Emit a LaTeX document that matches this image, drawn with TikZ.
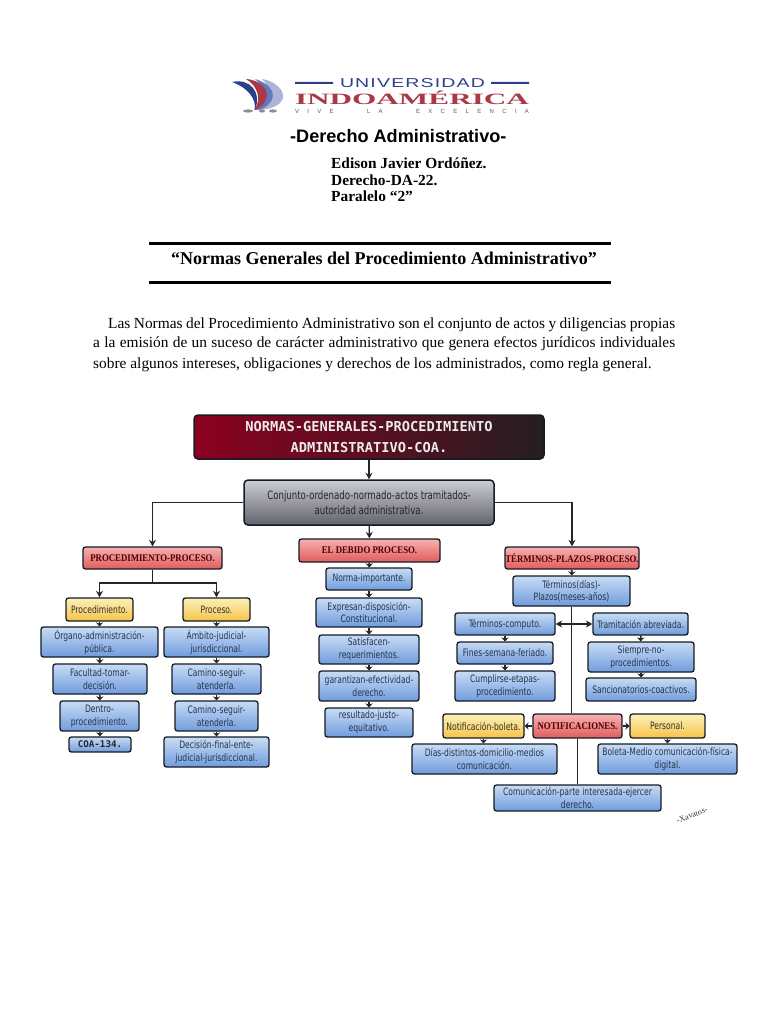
\documentclass[tikz,border=0pt]{standalone}
\usepackage{fontspec}
\usepackage{graphicx}
\setmainfont{Liberation Serif}
\newfontfamily\arialf{Liberation Sans}
\newfontfamily\boxf[FakeStretch=0.83]{DejaVu Sans Condensed}
\newfontfamily\headf[FakeStretch=0.86]{Liberation Serif}
\newfontfamily\monof{DejaVu Sans Mono}
\usetikzlibrary{arrows.meta}
\definecolor{edgec}{HTML}{141B24}
\definecolor{inkc}{HTML}{26344A}
\definecolor{navyc}{HTML}{2C3F8C}
\definecolor{logored}{HTML}{A83A48}
\tikzset{
  box/.style={draw=edgec,line width=1.3pt,rounded corners=2.5pt,inner sep=0pt,align=center,text=inkc,
     font=\boxf\fontsize{10.2}{12.8}\selectfont},
  blues/.style={box,top color={rgb,255:red,200;green,220;blue,245},bottom color={rgb,255:red,112;green,156;blue,220}},
  reds/.style={box,top color={rgb,255:red,246;green,178;blue,178},bottom color={rgb,255:red,224;green,92;blue,92},
     text=red!30!black,font=\headf\bfseries\fontsize{10.2}{12}\selectfont},
  yellows/.style={box,top color={rgb,255:red,253;green,240;blue,185},bottom color={rgb,255:red,245;green,196;blue,72},text=black!80},
  titlebox/.style={box,line width=1.5pt,rounded corners=4pt,left color={rgb,255:red,140;green,0;blue,32},right color={rgb,255:red,38;green,30;blue,34},
     text=white!92!black,font=\monof\bfseries\fontsize{13.7}{21}\selectfont},
  graybox/.style={box,line width=1.5pt,rounded corners=4pt,top color={rgb,255:red,205;green,205;blue,212},bottom color={rgb,255:red,98;green,98;blue,108},
     text=black!85,font=\boxf\fontsize{11.5}{15.5}\selectfont},
  coabox/.style={blues,text=black!85,font=\monof\bfseries\fontsize{9.2}{11}\selectfont},
  link/.style={draw=black!85,line width=1.3pt},
  arr/.style={link,-{Stealth[length=6.5pt,width=7pt]}},
  stub/.style={link,line width=1.8pt,-{Stealth[length=4pt,width=7.5pt]}},
  plain/.style={inner sep=0pt,anchor=west,text=black},
  rulebar/.style={draw=black,line width=3pt},
}
\newcommand{\bx}[7]{% name x1 y1 x2 y2 style text
  \pgfmathsetmacro{\cxv}{(#2+#4)/2}\pgfmathsetmacro{\cyv}{(#3+#5)/2}
  \pgfmathsetmacro{\wv}{#4-#2}\pgfmathsetmacro{\hv}{#5-#3}
  \node[#6,minimum width=\wv pt,minimum height=\hv pt] (#1) at (\cxv,\cyv) {#7};}
\begin{document}
\begin{tikzpicture}[x=1pt,y=-1pt]
\useasboundingbox (0,0) rectangle (768,1024);
% logo
\fill[color={rgb,255:red,172;green,180;blue,216}] (262,79) .. controls (280,82) and (288,96) .. (280,103) .. controls (275,108) and (265,110) .. (257,110) .. controls (270,100) and (272,88) .. (262,79) -- cycle;
\fill[color={rgb,255:red,100;green,120;blue,190}] (255,79) .. controls (272,84) and (278,96) .. (268,105) .. controls (265,108) and (260,110) .. (255,110) .. controls (266,100) and (266,88) .. (255,79) -- cycle;
\fill[logored] (246,79) .. controls (262,80) and (272,92) .. (264,103) .. controls (262,106) and (258,109) .. (254,110) .. controls (262,100) and (258,86) .. (246,79) -- cycle;
\fill[navyc] (232,82) .. controls (250,78) and (262,92) .. (255,110) .. controls (256,98) and (248,88) .. (232,82) -- cycle;
\fill[color=black!45] (248,111) ellipse (5pt and 1.6pt) (262,111) ellipse (3pt and 1.6pt) (273,111) ellipse (4pt and 1.6pt);
\fill[navyc] (295,82) rectangle (333,84) (491,82) rectangle (529,84);
\node[inner sep=0pt,text=navyc] (l1) at (412.5,83) {\resizebox{145pt}{9pt}{\arialf\addfontfeature{LetterSpace=6}UNIVERSIDAD}};
\node[inner sep=0pt,text=logored] (l2) at (412,97.5) {\resizebox{234pt}{13.5pt}{\bfseries INDOAMÉRICA}};
\node[inner sep=0pt,text=black!65] (l3) at (412,111.5) {\makebox[234pt][s]{\arialf\fontsize{6}{6}\selectfont V I V E \ \ \ L A \ \ \ E X C E L E N C I A}};
% heading
\node[plain] (t1) at (290,136) {\arialf\bfseries\fontsize{18.1}{20}\selectfont -Derecho Administrativo-};
\node[plain] (t2) at (331,163) {\bfseries\fontsize{15.4}{16}\selectfont Edison Javier Ordóñez.};
\node[plain] (t3) at (331,180) {\bfseries\fontsize{15.4}{16}\selectfont Derecho-DA-22.};
\node[plain] (t4) at (331,196.5) {\bfseries\fontsize{15.4}{16}\selectfont Paralelo “2”};
\draw[rulebar] (149,243) -- (611,243);
\draw[rulebar] (149,282) -- (611,282);
\node[plain] (t5) at (171,258.5) {\bfseries\fontsize{18}{20}\selectfont “Normas Generales del Procedimiento Administrativo”};
\node[plain] (p1) at (108,325) {\makebox[567pt][s]{\fontsize{15.4}{16}\selectfont Las Normas del Procedimiento Administrativo son el conjunto de actos y diligencias propias}};
\node[plain] (p2) at (93,344) {\makebox[582pt][s]{\fontsize{15.4}{16}\selectfont a la emisión de un suceso de carácter administrativo que genera efectos jurídicos individuales}};
\node[plain] (p3) at (93,365) {\fontsize{15.4}{16}\selectfont sobre algunos intereses, obligaciones y derechos de los administrados, como regla general.};
% boxes
\bx{top}{194}{415}{544}{459}{titlebox}{NORMAS-GENERALES-PROCEDIMIENTO\\ADMINISTRATIVO-COA.}
\bx{gray}{244}{480}{494}{525}{graybox}{Conjunto-ordenado-normado-actos tramitados-\\autoridad administrativa.}
\bx{pp}{83}{547}{222}{569}{reds}{PROCEDIMIENTO-PROCESO.}
\bx{dp}{299}{539}{440}{562}{reds}{EL DEBIDO PROCESO.}
\bx{tp}{505}{547}{639}{569}{reds}{TÉRMINOS-PLAZOS-PROCESO.}
% left column
\bx{proc}{66}{598}{133}{621}{yellows}{Procedimiento.}
\bx{pro}{183}{598}{250}{621}{yellows}{Proceso.}
\bx{org}{41}{627}{158}{657}{blues}{Órgano-administración-\\pública.}
\bx{fac}{53}{664}{147}{694}{blues}{Facultad-tomar-\\decisión.}
\bx{den}{60}{701}{139}{731}{blues}{Dentro-\\procedimiento.}
\bx{coa}{69}{737}{131}{752}{coabox}{COA-134.}
\bx{amb}{164}{627}{269}{657}{blues}{Ámbito-judicial-\\jurisdiccional.}
\bx{cam}{172}{664}{261}{694}{blues}{Camino-seguir-\\atenderla.}
\bx{camb}{175}{701}{258}{731}{blues}{Camino-seguir-\\atenderla.}
\bx{dec}{164}{737}{269}{767}{blues}{Decisión-final-ente-\\judicial-jurisdiccional.}
% middle column
\bx{nor}{326}{568}{412}{590}{blues}{Norma-importante.}
\bx{exp}{316}{598}{422}{627}{blues}{Expresan-disposición-\\Constitucional.}
\bx{sat}{319}{635}{419}{664}{blues}{Satisfacen-\\requerimientos.}
\bx{gar}{319}{671}{419}{701}{blues}{garantizan-efectividad-\\derecho.}
\bx{res}{325}{708}{413}{737}{blues}{resultado-justo-\\equitativo.}
% right column
\bx{td}{513}{576}{630}{606}{blues}{Términos(días)-\\Plazos(meses-años)}
\bx{com}{455}{613}{555}{635}{blues}{Términos-computo.}
\bx{fin}{457}{642}{553}{664}{blues}{Fines-semana-feriado.}
\bx{cum}{455}{671}{555}{701}{blues}{Cumplirse-etapas-\\procedimiento.}
\bx{tra}{593}{613}{688}{635}{blues}{Tramitación abreviada.}
\bx{sie}{588}{642}{694}{672}{blues}{Siempre-no-\\procedimientos.}
\bx{san}{586}{678}{696}{701}{blues}{Sancionatorios-coactivos.}
\bx{nb}{443}{714}{524}{738}{yellows}{Notificación-boleta.}
\bx{not}{533}{714}{622}{738}{reds}{NOTIFICACIONES.}
\bx{per}{630}{714}{705}{738}{yellows}{Personal.}
\bx{dia}{412}{744}{557}{774}{blues}{Días-distintos-domicilio-medios\\comunicación.}
\bx{bol}{598}{744}{737}{774}{blues}{Boleta-Medio comunicación-física-\\digital.}
\bx{cm}{494}{785}{661}{811}{blues}{Comunicación-parte interesada-ejercer\\derecho.}
\node[rotate=20,inner sep=0pt,text=black!80,font=\fontsize{8.2}{9}\selectfont] (sig) at (692,815) {-Xavatos-};
% connectors
\draw[arr] (top) -- (gray);
\draw[arr] (gray) -- (dp);
\draw[arr] (gray.west) -| (pp.north);
\draw[arr] (gray.east) -| (tp.north);
\coordinate (ppj) at (152.5,583);
\draw[link] (pp.south) -- (ppj);
\draw[arr] (ppj) -| (proc.north);
\draw[arr] (ppj) -| (pro.north);
\foreach \a/\b in {proc/org,org/fac,fac/den,den/coa,pro/amb,amb/cam,cam/camb,camb/dec,dp/nor,nor/exp,exp/sat,sat/gar,gar/res,tp/td,com/fin,fin/cum,tra/sie,sie/san}
  {\draw[stub] (\a) -- (\b);}
\draw[stub] (nb.south) -- (nb.south |- dia.north);
\draw[stub] (per.south) -- (per.south |- bol.north);
\draw[link] (td.south) -- (td.south |- not.north);
\coordinate (tj) at (571.5,624);
\draw[arr] (tj) -- (com.east);
\draw[arr] (tj) -- (tra.west);
\draw[stub] (not.west) -- (nb.east);
\draw[stub] (not.east) -- (per.west);
\draw[link] (not) -- (cm);
\end{tikzpicture}
\end{document}
